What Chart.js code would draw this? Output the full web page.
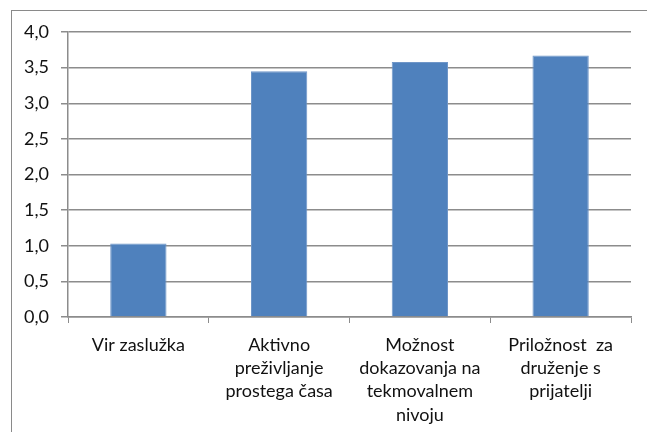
<!DOCTYPE html>
<html>
<head>
<meta charset="utf-8">
<script src="https://cdn.jsdelivr.net/npm/chart.js@4"></script>
<style>
  html, body { margin: 0; padding: 0; background: #fff; }
  #wrap { position: relative; width: 647px; height: 432px; overflow: hidden; }
  #frame {
    position: absolute; left: 11px; top: 10px; width: 700px; height: 500px;
    border-left: 1.5px solid #8a8a8a; border-top: 1.5px solid #8a8a8a;
  }
  canvas { position: absolute; left: 0; top: 0; }
</style>
</head>
<body>
<div id="wrap">
  <div id="frame"></div>
  <canvas id="chart" width="647" height="432"></canvas>
</div>
<script>
// kategorije in povprečne ocene
const categories = [
    ['Vir zaslužka'],
    ['Aktivno', 'preživljanje', 'prostega časa'],
    ['Možnost', 'dokazovanja na', 'tekmovalnem', 'nivoju'],
    ['Priložnost  za', 'druženje s', 'prijatelji']
];
const values = [1.03, 3.45, 3.58, 3.67];
const yTicks = [0, 0.5, 1, 1.5, 2, 2.5, 3, 3.5, 4];

const gridColor = '#8c8c8c';
const labelFont = { family: 'Lato', size: 18, lineHeight: 1.3 };

new Chart(document.getElementById('chart'), {
    type: 'bar',
    data: {
        labels: categories,
        datasets: [{
            data: values,
            backgroundColor: '#4f81bd',
            borderColor: '#6f96c8',
            borderWidth: 1,
            barPercentage: 0.4,
            categoryPercentage: 1
        }]
    },
    options: {
        responsive: false,
        animation: false,
        layout: { padding: { top: 32, right: 16, left: 0, bottom: 0 } },
        plugins: { legend: { display: false }, tooltip: { enabled: false } },
        scales: {
            x: {
                afterFit: (s) => { s.height = 115; },
                grid: {
                    offset: true,
                    drawOnChartArea: false,
                    color: gridColor,
                    tickLength: 6
                },
                border: { color: gridColor, width: 1.5 },
                ticks: {
                    color: '#111',
                    font: labelFont,
                    padding: 10,
                    maxRotation: 0,
                    autoSkip: false
                }
            },
            y: {
                min: 0,
                max: 4,
                afterFit: (s) => { s.width = 68; },
                afterBuildTicks: (s) => { s.ticks = yTicks.map(v => ({ value: v })); },
                grid: { color: gridColor, lineWidth: 1.5, tickLength: 7 },
                border: { color: gridColor, width: 1.5 },
                ticks: {
                    color: '#111',
                    font: { family: 'Lato', size: 18 },
                    padding: 12,
                    callback: (v) => v.toFixed(1).replace('.', ',')
                }
            }
        }
    }
});
</script>
</body>
</html>
